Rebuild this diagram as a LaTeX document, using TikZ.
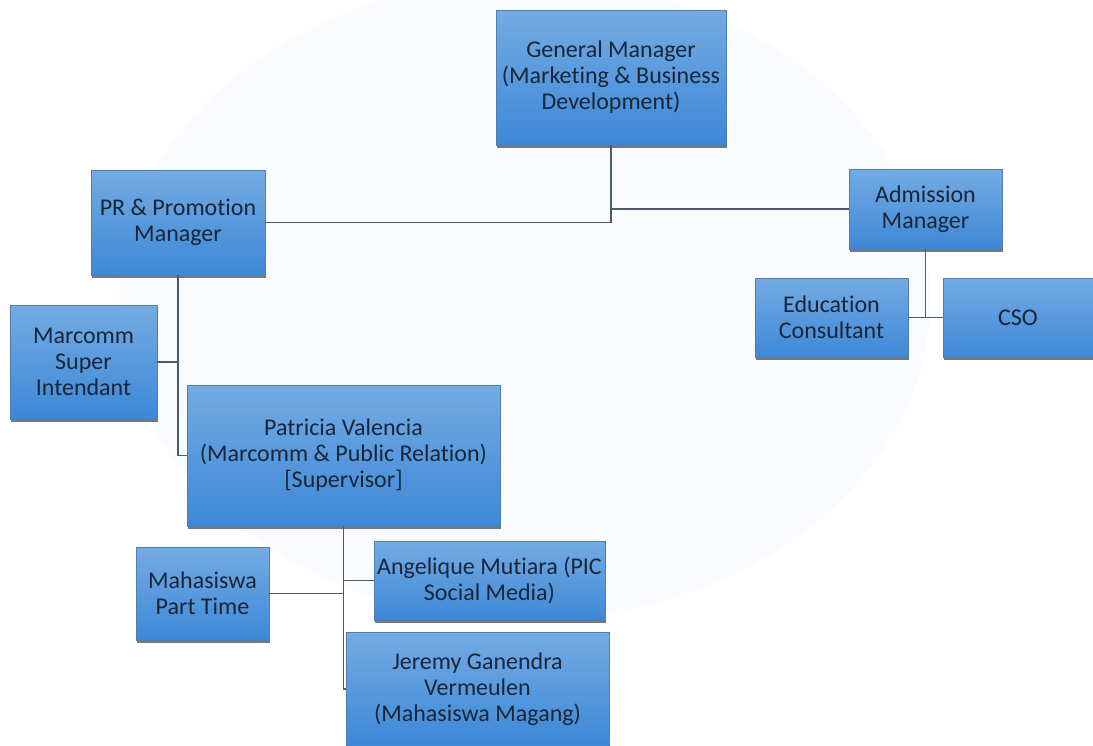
\documentclass[tikz,border=0pt]{standalone}
\usepackage{fontspec}
\setmainfont{Carlito}[Ligatures=NoCommon]
\usetikzlibrary{shadows}
\definecolor{boxtop}{HTML}{74ABE4}
\definecolor{boxbot}{HTML}{3D88D6}
\definecolor{boxline}{HTML}{4F7FB0}
\definecolor{txt}{HTML}{182638}
\definecolor{conn}{HTML}{4A5B6E}
\definecolor{wm}{HTML}{F9FBFE}
\begin{document}
\begin{tikzpicture}[x=1pt,y=-1pt,
  orgbox/.style={rectangle, draw=boxline, line width=0.6pt,
    top color=boxtop, bottom color=boxbot, text=txt,
    font=\fontsize{24}{26}\selectfont, align=center, inner sep=2pt,
    drop shadow={shadow xshift=1pt, shadow yshift=-2.5pt, fill=black!70, opacity=0.75}},
  link/.style={draw=conn, line width=1.3pt}]
\useasboundingbox (0,0) rectangle (1093,745);
\fill[white] (0,0) rectangle (1093,745);
\fill[wm] (525,300) ellipse [x radius=405, y radius=320];

\node[orgbox, minimum width=230pt, minimum height=135pt] (gm) at (611,77.5)
  {General Manager\\(Marketing \& Business\\Development)};
\node[orgbox, minimum width=174pt, minimum height=105pt] (pr) at (178,222.5)
  {PR \& Promotion\\Manager};
\node[orgbox, minimum width=153pt, minimum height=80pt] (adm) at (925.5,209)
  {Admission\\Manager};
\node[orgbox, minimum width=153pt, minimum height=79pt] (ec) at (831.5,317.5)
  {Education\\Consultant};
\node[orgbox, minimum width=150pt, minimum height=79pt] (cso) at (1018,317.5)
  {CSO};
\node[orgbox, minimum width=147pt, minimum height=114pt] (mc) at (83.5,362)
  {Marcomm\\Super\\Intendant};
\node[orgbox, minimum width=313pt, minimum height=141pt] (pat) at (343.5,455.5)
  {Patricia Valencia\\(Marcomm \& Public Relation)\\{[Supervisor]}};
\node[orgbox, minimum width=133pt, minimum height=93pt] (mpt) at (202.5,593.5)
  {Mahasiswa\\Part Time};
\node[orgbox, minimum width=231pt, minimum height=79pt] (ang) at (489.5,580.5)
  {Angelique Mutiara (PIC\\Social Media)};
\node[orgbox, minimum width=263pt, minimum height=114pt] (jer) at (477.5,689)
  {Jeremy Ganendra\\Vermeulen\\(Mahasiswa Magang)};

\draw[link] (gm.south) |- (pr.east);
\draw[link] (adm.west) -- (adm.west -| gm.south);
\draw[link] (pr.south) |- (pat.west);
\draw[link] (mc.east) -- (mc.east -| pr.south);
\draw[link] (adm.south) -- (adm.south |- ec.east);
\draw[link] (ec.east) -- (cso.west);
\draw[link] (pat.south) |- (jer.west);
\draw[link] (ang.west) -- (ang.west -| pat.south);
\draw[link] (mpt.east) -- (mpt.east -| pat.south);
\end{tikzpicture}
\end{document}
